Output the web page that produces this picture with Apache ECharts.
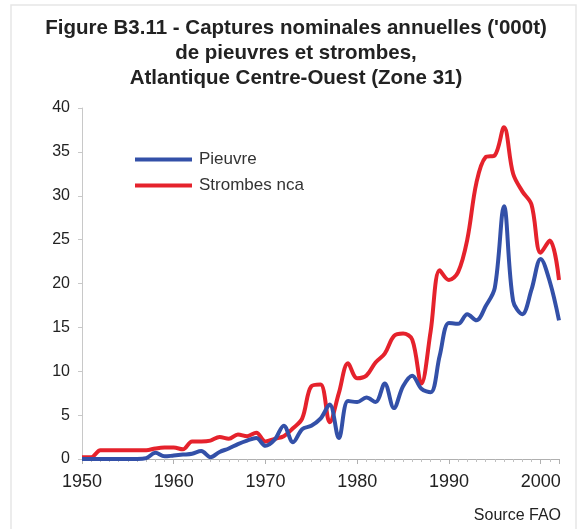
<!DOCTYPE html>
<html>
<head>
<meta charset="utf-8">
<script src="https://cdn.jsdelivr.net/npm/echarts@6/dist/echarts.min.js"></script>
<style>
  html, body { margin: 0; padding: 0; background: #fff; }
  #chart { width: 579px; height: 529px; }
</style>
</head>
<body>
<div id="chart"></div>
<script>
// années 1950 -> 2002
const years = [];
for (let y = 1950; y <= 2002; y++) years.push(y);

const pieuvre = [
  0, 0, 0, 0, 0, 0, 0, 0.1, 0.7, 0.3,
  0.4, 0.5, 0.6, 0.9, 0.2, 0.8, 1.2, 1.7, 2.1, 2.4,
  1.5, 2.2, 3.8, 1.9, 3.4, 3.8, 4.6, 6.2, 2.4, 6.6,
  6.5, 7.0, 6.5, 8.6, 5.8, 8.3, 9.5, 8.0, 7.6, 11.8,
  15.5, 15.4, 16.5, 15.8, 17.4, 19.5, 28.8, 18.0, 16.5, 19.3,
  22.8, 20.2, 15.8
];

const strombes = [
  0.2, 0.2, 1.0, 1.0, 1.0, 1.0, 1.0, 1.0, 1.2, 1.3,
  1.3, 1.1, 2.0, 2.0, 2.1, 2.5, 2.3, 2.8, 2.6, 3.0,
  2.0, 2.3, 2.6, 3.5, 4.6, 8.3, 8.5, 4.2, 7.5, 10.9,
  9.2, 9.5, 11.0, 12.0, 14.0, 14.3, 13.6, 8.6, 14.5, 21.5,
  20.4, 21.3, 25.0, 31.5, 34.4, 34.6, 37.8, 32.5, 30.5, 29.0,
  23.5, 24.9, 20.4
];

const xTicks = [1950, 1960, 1970, 1980, 1990, 2000];

const font = '"Liberation Sans", Arial, sans-serif';
const chart = echarts.init(document.getElementById("chart"));

const toPairs = (vals) => years.map((y, i) => [y, vals[i]]);

const option = {
  backgroundColor: "#ffffff",
  animation: false,
  title: {
    text: "Figure B3.11 - Captures nominales annuelles ('000t)\nde pieuvres et strombes,\nAtlantique Centre-Ouest (Zone 31)",
    left: 291,
    top: 11,
    textAlign: "center",
    textStyle: {
      fontFamily: font,
      fontSize: 20.5,
      fontWeight: "bold",
      color: "#222",
      lineHeight: 25,
    },
  },
  legend: {
    orient: "vertical",
    left: 130,
    top: 146,
    itemWidth: 57,
    itemHeight: 4,
    itemGap: 9,
    icon: "rect",
    textStyle: { fontFamily: font, fontSize: 17, color: "#333", padding: [0, 0, 0, 2] },
    data: ["Pieuvre", "Strombes nca"],
  },
  grid: { left: 82, right: 20, top: 108, bottom: 70 },
  xAxis: {
    type: "value",
    min: 1950,
    max: 2002,
    interval: 10,
    axisLine: { lineStyle: { color: "#b0b0b0", width: 1 } },
    axisTick: { show: true, length: 5, lineStyle: { color: "#b0b0b0" } },
    minorTick: { show: true, splitNumber: 10, length: 3, lineStyle: { color: "#c0c0c0" } },
    splitLine: { show: false },
    axisLabel: {
      fontFamily: font,
      fontSize: 18,
      color: "#222",
      margin: 14,
      customValues: xTicks,
      formatter: (v) => (xTicks.includes(v) ? String(v) : ""),
    },
  },
  yAxis: {
    type: "value",
    min: 0,
    max: 40,
    interval: 5,
    axisLine: { show: true, lineStyle: { color: "#c8c8c8" } },
    axisTick: { show: true, length: 4, lineStyle: { color: "#c8c8c8" } },
    splitLine: { show: false },
    axisLabel: { fontFamily: font, fontSize: 16, color: "#222", margin: 12 },
  },
  series: [
    {
      name: "Pieuvre",
      type: "line",
      data: toPairs(pieuvre),
      smooth: 0.35,
      showSymbol: false,
      lineStyle: { color: "#3350a8", width: 4 },
      itemStyle: { color: "#3350a8" },
      z: 3,
    },
    {
      name: "Strombes nca",
      type: "line",
      data: toPairs(strombes),
      smooth: 0.35,
      showSymbol: false,
      lineStyle: { color: "#e5222c", width: 4 },
      itemStyle: { color: "#e5222c" },
      z: 2,
    },
  ],
  graphic: [
    {
      type: "rect",
      shape: { x: 11, y: 5, width: 565, height: 530 },
      style: { fill: "none", stroke: "#e6e6e6", lineWidth: 1.5 },
      silent: true,
    },
    {
      type: "text",
      right: 18,
      top: 508,
      style: { text: "Source FAO", font: "16px " + font, fill: "#222" },
    },
  ],
};

chart.setOption(option);
</script>
</body>
</html>
